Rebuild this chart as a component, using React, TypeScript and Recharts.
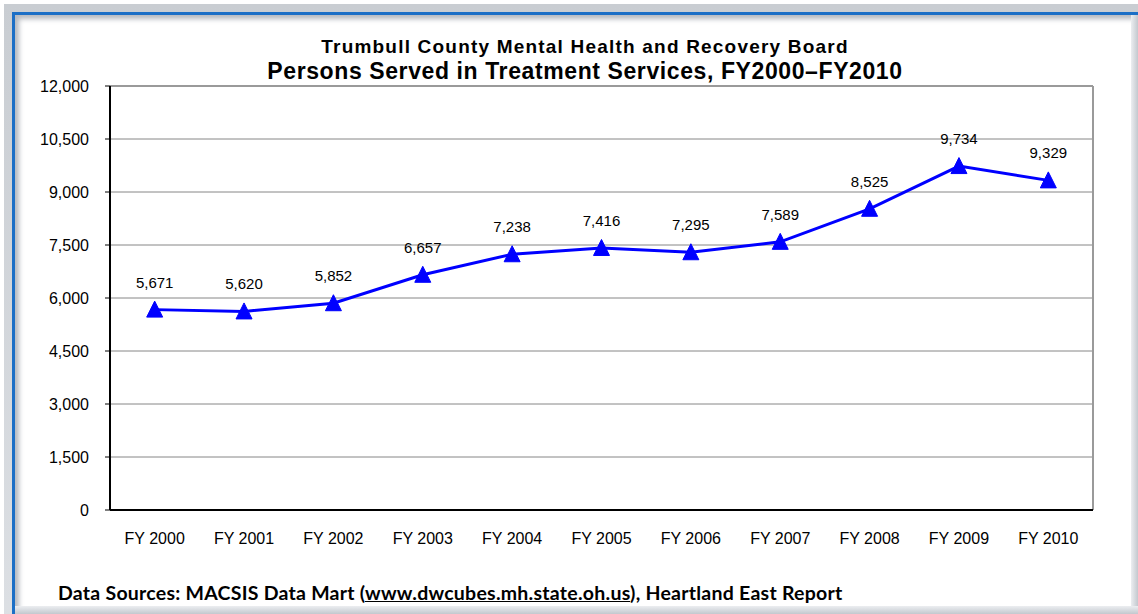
import React from "react";
import {
  LineChart,
  Line,
  XAxis,
  YAxis,
  CartesianGrid,
  LabelList,
  ReferenceLine,
} from "recharts";

const years = ["FY 2000", "FY 2001", "FY 2002", "FY 2003", "FY 2004", "FY 2005", "FY 2006", "FY 2007", "FY 2008", "FY 2009", "FY 2010"];
const personsServed = [5671, 5620, 5852, 6657, 7238, 7416, 7295, 7589, 8525, 9734, 9329];
const yTicks = [0, 1500, 3000, 4500, 6000, 7500, 9000, 10500, 12000];

const W = 1138;
const H = 614;
const FONT = "'Liberation Sans', Arial, sans-serif";

const data = years.map((year, i) => ({ idx: i, year, value: personsServed[i] }));
const labelTicks = years.map((_, i) => i);
const boundaryTicks = [...labelTicks.map((i) => i - 0.5), years.length - 0.5];
const xDomain = [-0.5, years.length - 0.5];

const fmt = (v: number) => Number(v).toLocaleString("en-US");

// filled triangle marker
const TriangleDot = (props: any) => {
  const { cx, cy, index } = props;
  if (cx == null || cy == null) return null;
  const w = 16;
  const h = 15;
  return (
    <polygon
      key={`dot-${index}`}
      points={`${cx},${cy - h / 2 - 1} ${cx - w / 2},${cy + h / 2} ${cx + w / 2},${cy + h / 2}`}
      fill="#0000FF"
      stroke="#0000FF"
      strokeWidth={1}
    />
  );
};

export default function App() {
  return (
    <div style={{ position: "relative", width: W, height: H, overflow: "hidden", background: "#ffffff" }}>
      <style>{"body{margin:0;}"}</style>

      {/* picture frame */}
      <div
        style={{
          position: "absolute",
          left: 4,
          top: 4,
          width: 1200,
          height: 700,
          background: "linear-gradient(#c9cdd2, #dfe2e6)",
        }}
      />
      <div
        style={{
          position: "absolute",
          left: 12,
          top: 12,
          width: 1200,
          height: 700,
          borderTop: "3px solid #1C6FC6",
          borderLeft: "3px solid #1C6FC6",
          background: "#ffffff",
          boxShadow: "inset 4px 4px 5px rgba(120,128,138,0.55)",
        }}
      />
      <div
        style={{
          position: "absolute",
          left: 1131,
          top: 15,
          width: 7,
          height: 600,
          background: "linear-gradient(to right, #eceef1, #c3c8ce)",
        }}
      />
      <div
        style={{
          position: "absolute",
          left: 15,
          top: 606,
          width: 1123,
          height: 8,
          background: "linear-gradient(#eceef1, #c3c8ce)",
        }}
      />

      {/* titles */}
      <div
        style={{
          position: "absolute",
          left: 0,
          top: 35,
          width: 1170,
          textAlign: "center",
          fontFamily: FONT,
          fontWeight: "bold",
          fontSize: 19,
          letterSpacing: 1.2,
          lineHeight: "24px",
          color: "#000",
          whiteSpace: "nowrap",
        }}
      >
        Trumbull County Mental Health and Recovery Board
      </div>
      <div
        style={{
          position: "absolute",
          left: 0,
          top: 57,
          width: 1170,
          textAlign: "center",
          fontFamily: FONT,
          fontWeight: "bold",
          fontSize: 23,
          letterSpacing: 0.6,
          lineHeight: "28px",
          color: "#000",
          whiteSpace: "nowrap",
        }}
      >
        Persons Served in Treatment Services, FY2000–FY2010
      </div>

      <div style={{ position: "absolute", left: 0, top: 0 }}>
        <LineChart width={W} height={H} data={data} margin={{ top: 86, right: 45, left: 0, bottom: 63 }}>
          <CartesianGrid xAxisId="cat" vertical={false} stroke="#868686" strokeWidth={1} />
          <XAxis
            xAxisId="bound"
            dataKey="idx"
            type="number"
            domain={xDomain}
            ticks={boundaryTicks}
            interval={0}
            height={1}
            tick={false}
            tickSize={5}
            tickLine={{ stroke: "#000", strokeWidth: 1 }}
            axisLine={{ stroke: "#000", strokeWidth: 2 }}
          />
          <XAxis
            xAxisId="cat"
            dataKey="idx"
            type="number"
            domain={xDomain}
            ticks={labelTicks}
            interval={0}
            height={40}
            tickLine={false}
            axisLine={false}
            tickSize={0}
            tickMargin={22}
            tickFormatter={(v: number) => years[v]}
            tick={{ fill: "#000", fontSize: 16, fontFamily: FONT }}
          />
          <YAxis
            domain={[0, 12000]}
            ticks={yTicks}
            interval={0}
            width={110}
            tickSize={5}
            tickMargin={16}
            tickFormatter={fmt}
            tickLine={{ stroke: "#000", strokeWidth: 1 }}
            axisLine={{ stroke: "#000", strokeWidth: 2 }}
            tick={{ fill: "#000", fontSize: 16, fontFamily: FONT }}
          />
          <ReferenceLine xAxisId="cat" x={years.length - 0.5} stroke="#9a9a9a" strokeWidth={2} />
          <ReferenceLine xAxisId="cat" y={12000} stroke="#9a9a9a" strokeWidth={2} />
          <Line
            xAxisId="cat"
            dataKey="value"
            stroke="#0000FF"
            strokeWidth={3}
            dot={TriangleDot}
            activeDot={false}
            isAnimationActive={false}
          >
            <LabelList
              dataKey="value"
              position="top"
              offset={22}
              formatter={fmt}
              fill="#000"
              fontSize={15}
              fontFamily={FONT}
            />
          </Line>
        </LineChart>
      </div>

      {/* footer */}
      <div
        style={{
          position: "absolute",
          left: 58,
          top: 581,
          fontFamily: "Lato, 'Open Sans', sans-serif",
          fontWeight: "bold",
          fontSize: 19.5,
          letterSpacing: 0.25,
          lineHeight: "24px",
          color: "#000",
          whiteSpace: "nowrap",
        }}
      >
        Data Sources: MACSIS Data Mart (<span style={{ textDecoration: "underline" }}>www.dwcubes.mh.state.oh.us</span>), Heartland East Report
      </div>
    </div>
  );
}
